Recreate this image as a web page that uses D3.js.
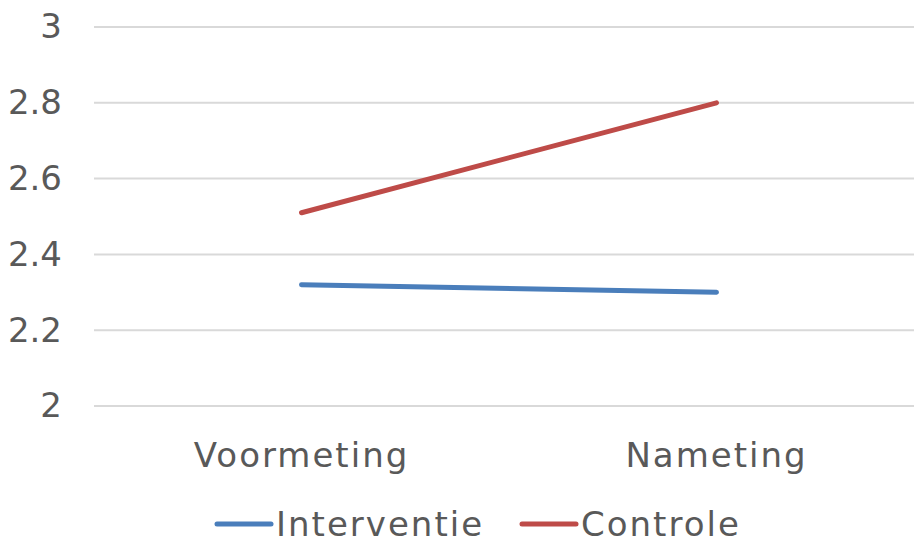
<!DOCTYPE html>
<html>
<head>
<meta charset="utf-8">
<script src="https://cdn.jsdelivr.net/npm/d3@7"></script>
<style>
  body { margin: 0; background: #fff; }
  text { font-family: "DejaVu Sans", Verdana, sans-serif; fill: #595959; }
</style>
</head>
<body>
<div id="chart"></div>
<script>
// categories and series
const categories = ['Voormeting', 'Nameting'];
const interventie = [2.32, 2.30];
const controle = [2.51, 2.80];
const yTicks = [2, 2.2, 2.4, 2.6, 2.8, 3];
const seriesNames = ['Interventie', 'Controle'];
const seriesColors = ['#4a7ebb', '#be4b48'];

const width = 914, height = 540;

const svg = d3.select('#chart')
  .append('svg')
  .attr('width', width)
  .attr('height', height);

// scales
const x = d3.scaleBand().domain(categories).range([94, 924]);
const y = d3.scaleLinear().domain([2, 3]).range([406, 27]);

// gridlines
svg.append('g')
  .selectAll('line')
  .data(yTicks)
  .join('line')
  .attr('x1', 94)
  .attr('x2', width)
  .attr('y1', d => y(d))
  .attr('y2', d => y(d))
  .style('stroke', '#d9d9d9')
  .style('stroke-width', 2);

// y axis labels
const yAxis = svg.append('g')
  .attr('transform', 'translate(62,0)')
  .call(d3.axisLeft(y).tickValues(yTicks).tickSize(0).tickPadding(0).tickFormat(d3.format('~g')));
yAxis.select('.domain').remove();
yAxis.selectAll('text')
  .style('font-size', '34px')
  .style('font-family', '"DejaVu Sans", Verdana, sans-serif')
  .attr('fill', '#595959');

// x axis labels
const xAxis = svg.append('g')
  .attr('transform', 'translate(0,406)')
  .call(d3.axisBottom(x).tickSize(0).tickPadding(37));
xAxis.select('.domain').remove();
xAxis.selectAll('text')
  .style('font-size', '34px')
  .style('letter-spacing', '2px')
  .style('font-family', '"DejaVu Sans", Verdana, sans-serif')
  .attr('fill', '#595959');

// lines
const line = d3.line()
  .x((d, i) => x(categories[i]) + x.bandwidth() / 2)
  .y(d => y(d));

[interventie, controle].forEach((vals, i) => {
  svg.append('path')
    .datum(vals)
    .attr('d', line)
    .style('fill', 'none')
    .style('stroke', seriesColors[i])
    .style('stroke-width', 5)
    .style('stroke-linecap', 'round');
});

// legend
const legendX = [217, 522];
seriesNames.forEach((name, i) => {
  const g = svg.append('g').attr('transform', `translate(${legendX[i]},524)`);
  g.append('line')
    .attr('x1', 0).attr('x2', 54)
    .attr('y1', 0).attr('y2', 0)
    .style('stroke', seriesColors[i])
    .style('stroke-width', 5)
    .style('stroke-linecap', 'round');
  g.append('text')
    .attr('x', 59)
    .attr('y', 12)
    .style('font-size', '34px')
    .style('letter-spacing', '2px')
    .text(name);
});
</script>
</body>
</html>
